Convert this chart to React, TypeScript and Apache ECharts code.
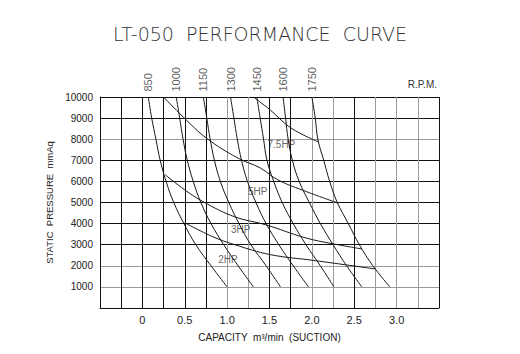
import React, { useEffect, useRef } from 'react';
import * as echarts from 'echarts';

// Static pressure levels (mmAq) at which each RPM curve was read
const pressureLevels = [10000, 9000, 8000, 7000, 6000, 5000, 4000, 3000, 2000, 1000];

// Capacity (m3/min) of each fan-speed curve at the pressure levels above
const rpmNames = ['850', '1000', '1150', '1300', '1450', '1600', '1750'];
const cap850 = [0.07, 0.11, 0.16, 0.21, 0.28, 0.37, 0.49, 0.63, 0.81, 1.0];
const cap1000 = [0.40, 0.44, 0.48, 0.53, 0.60, 0.69, 0.81, 0.96, 1.13, 1.31];
const cap1150 = [0.72, 0.76, 0.80, 0.85, 0.92, 1.02, 1.14, 1.28, 1.46, 1.63];
const cap1300 = [1.04, 1.08, 1.12, 1.17, 1.24, 1.34, 1.46, 1.61, 1.78, 1.96];
const cap1450 = [1.35, 1.39, 1.43, 1.47, 1.55, 1.65, 1.78, 1.93, 2.10, 2.26];
const cap1600 = [1.66, 1.69, 1.72, 1.77, 1.85, 1.97, 2.10, 2.25, 2.41, 2.59];
const cap1750 = [2.00, 2.04, 2.07, 2.14, 2.21, 2.30, 2.43, 2.56, 2.72, 2.92];

// Horsepower lines: [capacity, pressure]
const hpNames = ['7.5HP', '5HP', '3HP', '2HP'];
const hp75 = [[1.31, 10000], [1.51, 9380], [1.72, 8625], [1.90, 8200], [2.08, 7870]];
const hp5 = [[0.25, 10000], [0.48, 9060], [0.76, 8040], [1.13, 7100], [1.39, 6640], [1.60, 6070], [1.94, 5510], [2.31, 4970]];
const hp3 = [[0.27, 6310], [0.50, 5600], [0.72, 5030], [1.09, 4320], [1.45, 3950], [1.92, 3330], [2.24, 3050], [2.59, 2800]];
const hp2 = [[0.50, 4040], [0.83, 3380], [1.09, 3000], [1.51, 2530], [2.04, 2245], [2.75, 1850]];
const hpLabelPos = [[1.64, 7730], [1.36, 5510], [1.16, 3710], [1.01, 2290]];

// Tick labels
const xTickValues = [0, 0.5, 1.0, 1.5, 2.0, 2.5, 3.0];
const xTickLabels = ['0', '0.5', '1.0', '1.5', '2.0', '2.5', '3.0'];
const yTickValues = [1000, 2000, 3000, 4000, 5000, 6000, 7000, 8000, 9000, 10000];
const yTickLabels = ['1000', '2000', '3000', '4000', '5000', '6000', '7000', '8000', '9000', '10000'];

const K = '#111';
const G = '#9a9a9a';
const xGridColors = [K, K, K, K, K, K, G, G, K, K, G, G, K, G, G, G, K];
const yGridColors = [K, G, G, K, K, K, K, K, G, K, K];

const FONT = '"Liberation Sans", Arial, sans-serif';

function buildOption() {
  const rpmCaps = [cap850, cap1000, cap1150, cap1300, cap1450, cap1600, cap1750];
  const hpLines = [hp75, hp5, hp3, hp2];
  const series: any[] = [];
  rpmCaps.forEach((caps, i) => {
    series.push({
      type: 'line',
      name: rpmNames[i],
      data: caps.map((c, j) => [c, pressureLevels[j]]),
      smooth: 0.4,
      showSymbol: false,
      symbol: 'none',
      lineStyle: { color: '#1a1a1a', width: 1 },
      silent: true,
    });
  });
  hpLines.forEach((pts, i) => {
    series.push({
      type: 'line',
      name: hpNames[i],
      data: pts,
      smooth: 0.4,
      showSymbol: false,
      symbol: 'none',
      lineStyle: { color: '#1a1a1a', width: 1 },
      silent: true,
    });
  });
  series.push({
    type: 'scatter',
    data: rpmNames.map((n, i) => ({ value: [rpmCaps[i][0], pressureLevels[0]], name: n })),
    symbolSize: 1,
    itemStyle: { color: 'rgba(0,0,0,0)' },
    clip: false,
    silent: true,
    label: {
      show: true,
      formatter: '{b}',
      position: 'top',
      distance: 5,
      rotate: 90,
      align: 'left',
      verticalAlign: 'middle',
      fontSize: 11,
      fontFamily: FONT,
      color: '#333',
    },
  });
  series.push({
    type: 'scatter',
    data: hpNames.map((n, i) => ({ value: hpLabelPos[i], name: n })),
    symbolSize: 1,
    itemStyle: { color: 'rgba(0,0,0,0)' },
    silent: true,
    label: {
      show: true,
      formatter: '{b}',
      position: 'inside',
      fontSize: 10,
      fontFamily: FONT,
      color: '#3a3a3a',
    },
  });

  return {
    animation: false,
    backgroundColor: '#fff',
    title: {
      text: 'LT-050  PERFORMANCE  CURVE',
      left: 'center',
      top: 19,
      textStyle: {
        fontFamily: '"DejaVu Sans", sans-serif',
        fontWeight: 200,
        fontSize: 19,
        color: '#333',
      },
    },
    graphic: [
      {
        type: 'text',
        right: 83,
        top: 79,
        style: { text: 'R.P.M.', fontSize: 10, fontFamily: FONT, fill: '#333' },
      },
    ],
    grid: { left: 100, right: 81, top: 97, bottom: 46 },
    xAxis: {
      type: 'value',
      min: -0.5,
      max: 3.5,
      interval: 0.25,
      name: 'CAPACITY  m\u00B3/min  (SUCTION)',
      nameLocation: 'middle',
      nameGap: 24,
      nameTextStyle: { fontSize: 10, fontFamily: FONT, color: '#222' },
      axisLine: { show: true, onZero: false, lineStyle: { color: K, width: 1 } },
      axisTick: { show: false },
      axisLabel: {
        fontSize: 11,
        fontFamily: FONT,
        color: '#222',
        margin: 6,
        showMinLabel: true,
        showMaxLabel: true,
        formatter: (v: number) => {
          const idx = xTickValues.findIndex((t) => Math.abs(t - v) < 1e-6);
          return idx >= 0 ? xTickLabels[idx] : '';
        },
      },
      splitLine: { show: true, lineStyle: { color: xGridColors, width: 1 } },
    },
    yAxis: {
      type: 'value',
      min: 0,
      max: 10000,
      interval: 1000,
      name: 'STATIC  PRESSURE  mmAq',
      nameLocation: 'middle',
      nameGap: 36,
      nameRotate: 90,
      nameTextStyle: { fontSize: 9.5, fontFamily: FONT, color: '#222' },
      axisLine: { show: true, onZero: false, lineStyle: { color: K, width: 1 } },
      axisTick: { show: false },
      axisLabel: {
        fontSize: 10,
        fontFamily: FONT,
        color: '#222',
        margin: 7,
        formatter: (v: number) => {
          const idx = yTickValues.findIndex((t) => Math.abs(t - v) < 1e-6);
          return idx >= 0 ? yTickLabels[idx] : '';
        },
      },
      splitLine: { show: true, lineStyle: { color: yGridColors, width: 1 } },
    },
    series,
  };
}

export default function App() {
  const ref = useRef<HTMLDivElement>(null);
  useEffect(() => {
    if (!ref.current) return;
    const chart = echarts.init(ref.current, null, { renderer: 'svg' });
    chart.setOption(buildOption() as any);
    return () => chart.dispose();
  }, []);
  return (
    <div
      ref={ref}
      style={{ position: 'absolute', left: 0, top: 0, width: 520, height: 354, background: '#fff' }}
    />
  );
}
